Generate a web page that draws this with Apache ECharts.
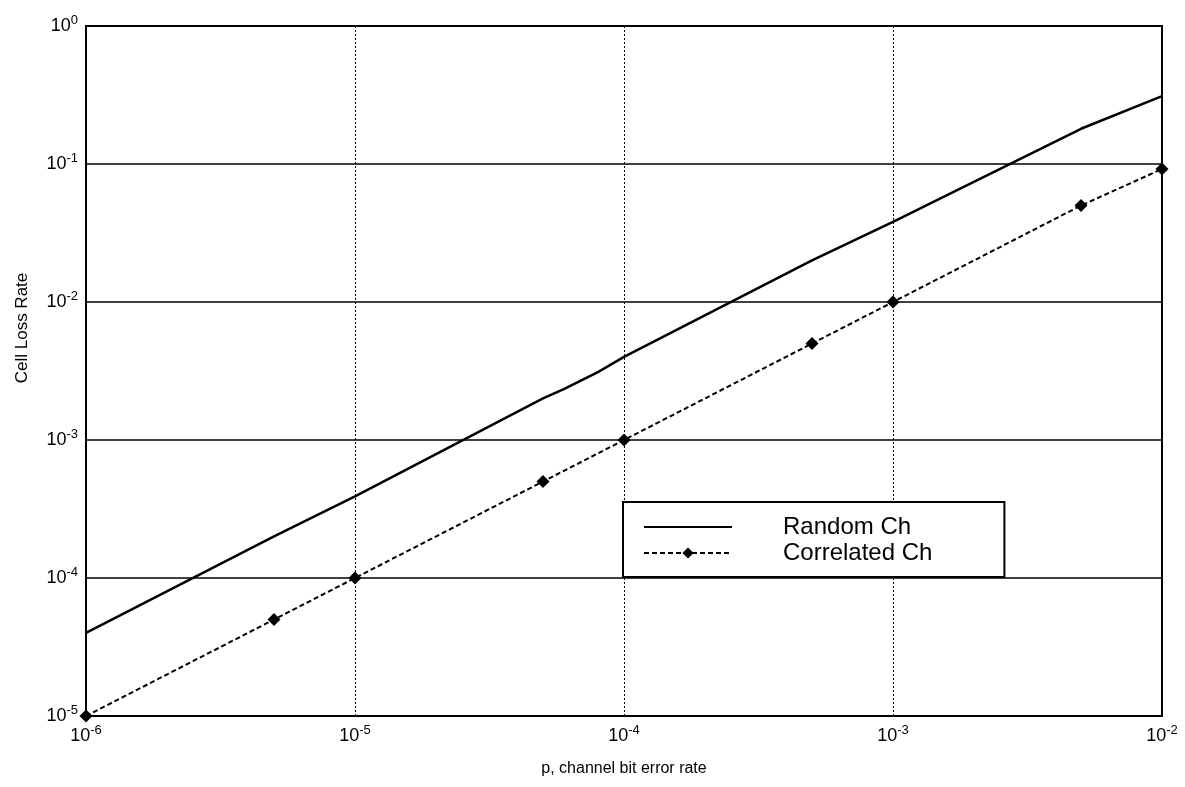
<!DOCTYPE html>
<html lang="en">

<head>
    <meta charset="UTF-8">
    <title>Cell Loss Rate</title>
</head>
<style>
    html, body { margin: 0; padding: 0; background: #fff; }
    #main { width: 1185px; height: 787px; }
</style>

<body>
    <div id="main"></div>
    <script src="https://cdn.jsdelivr.net/npm/echarts@6/dist/echarts.min.js"></script>

    <script>
        // values
        const randomP = [1e-6, 5e-6, 1e-5, 5e-5, 6e-5, 8e-5, 1e-4, 5e-4, 1e-3, 3e-3, 5e-3, 1e-2]
        const randomLoss = [4e-5, 2e-4, 3.9e-4, 2e-3, 2.35e-3, 3.1e-3, 4e-3, 2e-2, 3.8e-2, 0.11, 0.18, 0.31]
        const corrP = [1e-6, 5e-6, 1e-5, 5e-5, 1e-4, 5e-4, 1e-3, 5e-3, 1e-2]
        const corrLoss = [1e-5, 5e-5, 1e-4, 5e-4, 1e-3, 5e-3, 1e-2, 5e-2, 9.2e-2]
        const xTickExp = [-6, -5, -4, -3, -2]
        const yTickExp = [-5, -4, -3, -2, -1, 0]

        const font = 'Arial, "Liberation Sans", sans-serif'
        const fmt = v => {
            const e = Math.round(Math.log10(v))
            return `{b|10}{s|${e}}`
        }
        const rich = {
            b: { fontSize: 18, fontFamily: font, color: '#000', lineHeight: 20 },
            s: { fontSize: 13, fontFamily: font, color: '#000', lineHeight: 20, padding: [0, 0, 12, 0] }
        }

        let chart = echarts.init(document.getElementById('main'))
        let option = {
            animation: false,
            grid: {
                left: 86, right: 23, top: 26, bottom: 71,
                show: true, borderColor: '#000', borderWidth: 2
            },
            legend: {
                orient: 'vertical',
                left: 623, top: 502,
                backgroundColor: '#fff',
                borderColor: '#000', borderWidth: 2,
                padding: [13, 72, 12, 20],
                itemWidth: 88, itemHeight: 14, itemGap: 2,
                textStyle: { fontSize: 24, fontFamily: font, color: '#000', lineHeight: 24, padding: [0, 0, 0, 46] },
                data: ['Random Ch', 'Correlated Ch']
            },
            xAxis: {
                type: 'log', logBase: 10,
                min: Math.pow(10, xTickExp[0]), max: Math.pow(10, xTickExp[xTickExp.length - 1]),
                name: 'p, channel bit error rate',
                nameLocation: 'middle', nameGap: 45,
                nameTextStyle: { fontSize: 16, fontFamily: font, color: '#000' },
                axisLine: { lineStyle: { color: '#000', width: 2 } },
                axisTick: { show: false },
                minorTick: { show: false },
                axisLabel: { formatter: fmt, rich, margin: 10 },
                splitLine: { show: true, lineStyle: { color: '#000', width: 1, type: [2, 2] } }
            },
            yAxis: {
                type: 'log', logBase: 10,
                min: Math.pow(10, yTickExp[0]), max: Math.pow(10, yTickExp[yTickExp.length - 1]),
                axisLine: { lineStyle: { color: '#000', width: 2 } },
                axisTick: { show: false },
                axisLabel: { formatter: fmt, rich, margin: 8 },
                splitLine: { show: true, lineStyle: { color: '#000', width: 1.5, type: 'solid' } }
            },
            graphic: [{
                type: 'text',
                x: 22, y: 328,
                rotation: Math.PI / 2,
                style: {
                    text: 'Cell Loss Rate',
                    fontSize: 17, fontFamily: font, fill: '#000',
                    align: 'center', verticalAlign: 'middle'
                }
            }],
            series: [
                {
                    name: 'Random Ch',
                    type: 'line',
                    data: randomP.map((p, i) => [p, randomLoss[i]]),
                    symbol: 'circle', showSymbol: false,
                    lineStyle: { color: '#000', width: 2.5 },
                    itemStyle: { color: '#000', opacity: 0 },
                    z: 3
                },
                {
                    name: 'Correlated Ch',
                    type: 'line',
                    data: corrP.map((p, i) => [p, corrLoss[i]]),
                    symbol: 'diamond', symbolSize: 13,
                    lineStyle: { color: '#000', width: 2, type: [5, 3] },
                    itemStyle: { color: '#000' },
                    z: 3
                }
            ]
        }
        chart.setOption(option)
    </script>
</body>

</html>
